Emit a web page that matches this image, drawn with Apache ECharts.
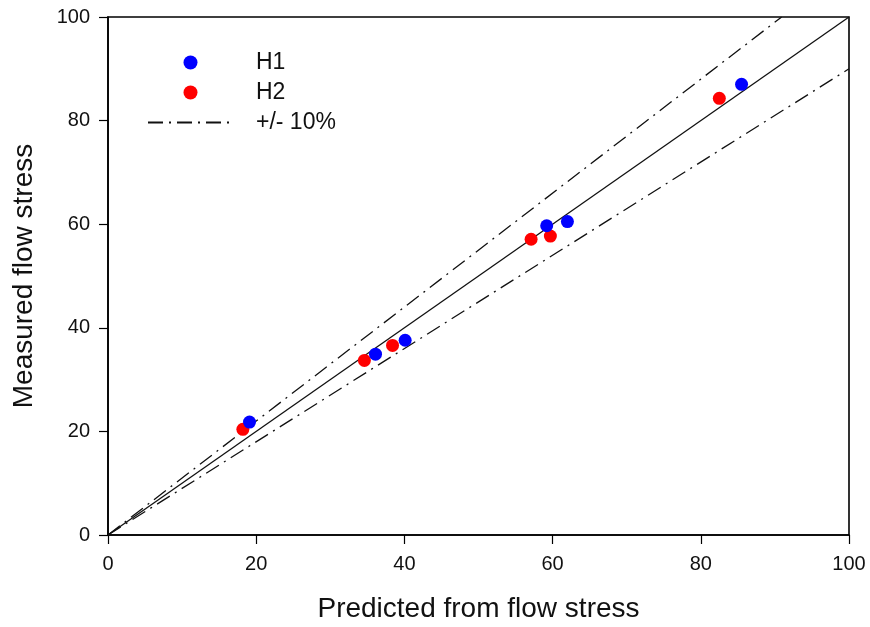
<!DOCTYPE html>
<html>
<head>
<meta charset="utf-8">
<script src="https://cdn.jsdelivr.net/npm/echarts@6/dist/echarts.min.js"></script>
<style>
  html, body { margin: 0; padding: 0; background: #fff; }
  #chart { width: 870px; height: 627px; }
</style>
</head>
<body>
<div id="chart"></div>
<script>
// Measured vs predicted flow stress for two heats
const h1Points = [[19.1, 21.8], [36.1, 34.9], [40.1, 37.6], [59.2, 59.7], [62.0, 60.5], [85.5, 87.0]];
const h2Points = [[18.2, 20.4], [34.6, 33.7], [38.4, 36.6], [57.1, 57.1], [59.7, 57.7], [82.5, 84.3]];

// Reference lines: 1:1 and +/- 10 % bounds
const lineParity = [[0, 0], [100, 100]];
const linePlus10 = [[0, 0], [100 / 1.1, 100]];
const lineMinus10 = [[0, 0], [100, 90]];

const axisTicks = [0, 20, 40, 60, 80, 100];

const FONT = 'Liberation Sans, Arial, sans-serif';
const dashDot = [15, 6, 2, 6];

const chart = echarts.init(document.getElementById('chart'), null, { renderer: 'canvas' });

const axisCommon = {
  min: axisTicks[0],
  max: axisTicks[axisTicks.length - 1],
  interval: axisTicks[1] - axisTicks[0],
  axisLine: { show: true, onZero: false, lineStyle: { color: '#000', width: 1.6 } },
  axisTick: { show: true, inside: false, length: 9, lineStyle: { color: '#000', width: 1.2 } },
  splitLine: { show: false },
  axisLabel: { color: '#111', fontFamily: FONT, fontSize: 20 },
  nameTextStyle: { color: '#111', fontFamily: FONT, fontSize: 28 },
  nameLocation: 'middle'
};

const boundStyle = {
  type: 'line',
  showSymbol: false,
  symbol: 'none',
  itemStyle: { color: 'rgba(0,0,0,0)' },
  lineStyle: { color: '#111', width: 1.3, type: dashDot },
  z: 2
};

chart.setOption({
  animation: false,
  backgroundColor: '#fff',
  grid: {
    left: 108, right: 21, top: 17, bottom: 92,
    containLabel: false,
    outerBoundsMode: 'none',
    show: true, borderColor: '#000', borderWidth: 1.6
  },
  legend: {
    orient: 'vertical',
    left: 142,
    top: 46,
    itemWidth: 85,
    itemHeight: 14,
    itemGap: 7,
    data: [
      { name: 'H1', icon: 'circle' },
      { name: 'H2', icon: 'circle' },
      { name: '+/- 10%' }
    ],
    textStyle: { color: '#111', fontFamily: FONT, fontSize: 23, lineHeight: 20, padding: [0, 0, 0, 18] }
  },
  xAxis: Object.assign({}, axisCommon, {
    type: 'value',
    name: 'Predicted from flow stress',
    nameGap: 60,
    axisLabel: Object.assign({}, axisCommon.axisLabel, { margin: 19 })
  }),
  yAxis: Object.assign({}, axisCommon, {
    type: 'value',
    name: 'Measured flow stress',
    nameGap: 70,
    axisLabel: Object.assign({}, axisCommon.axisLabel, { margin: 18 })
  }),
  series: [
    {
      name: '1:1',
      type: 'line',
      data: lineParity,
      showSymbol: false,
      symbol: 'none',
      lineStyle: { color: '#111', width: 1.3 },
      z: 2
    },
    Object.assign({ name: '+/- 10%', data: linePlus10 }, boundStyle),
    Object.assign({ name: '+/- 10%', data: lineMinus10 }, boundStyle),
    {
      name: 'H1',
      type: 'scatter',
      data: h1Points,
      symbol: 'circle',
      symbolSize: 13,
      itemStyle: { color: '#0000ff', opacity: 1 },
      z: 4
    },
    {
      name: 'H2',
      type: 'scatter',
      data: h2Points,
      symbol: 'circle',
      symbolSize: 13,
      itemStyle: { color: '#ff0000', opacity: 1 },
      z: 3
    }
  ]
});
</script>
</body>
</html>
